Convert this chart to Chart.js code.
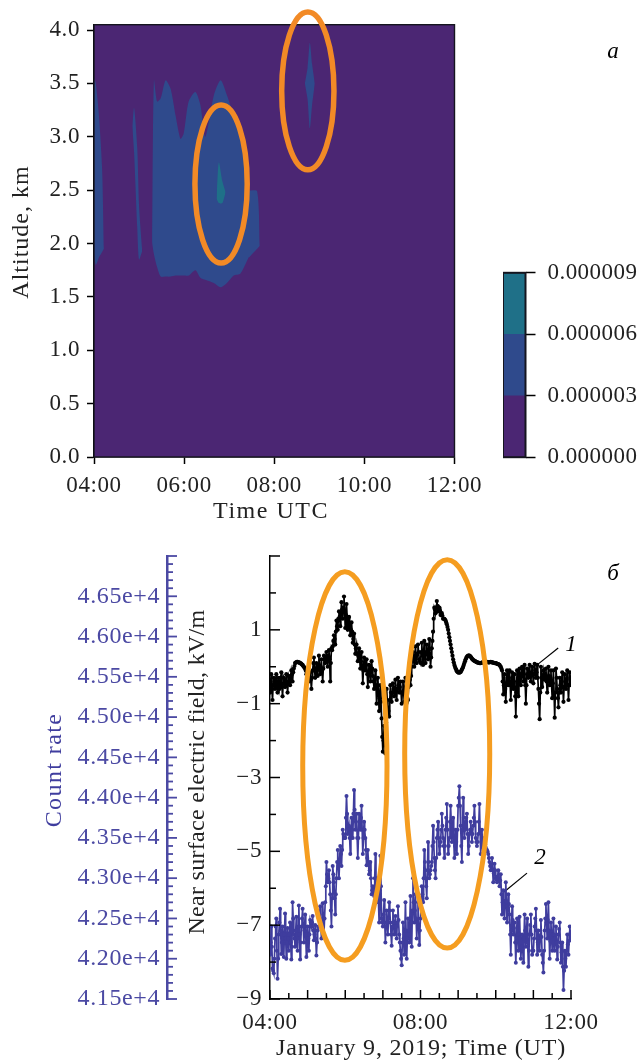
<!DOCTYPE html>
<html>
<head>
<meta charset="utf-8">
<title>Contours, field and count rate</title>
<script src="https://cdn.jsdelivr.net/npm/chart.js@4/dist/chart.umd.min.js"></script>
<style>
  html, body { margin: 0; padding: 0; background: #fff; }
  #page { position: relative; width: 638px; height: 1063px; overflow: hidden; }
  canvas { position: absolute; display: block; }
</style>
</head>
<body>
<div id="page">
  <canvas id="contour" width="638" height="530" style="left:0;top:0"></canvas>
  <canvas id="colorbar" width="135" height="236" style="left:503px;top:247px"></canvas>
  <canvas id="series" width="638" height="533" style="left:0;top:530px"></canvas>
</div>
<script>
// upper panel: contour outlines, hours UTC against km
const leftStripTimes = [4.0, 4.04, 4.11, 4.18, 4.22];
const leftStripUpper = [3.55, 3.5, 3.2, 2.7, 1.95];
const leftStripLower = [1.9, 1.8, 1.87, 1.92, 1.95];

const thinStripTimes = [4.85, 4.89, 4.96, 5.0, 5.07];
const thinStripUpper = [3.1, 3.27, 2.9, 2.35, 1.93];
const thinStripLower = [3.1, 2.85, 2.15, 1.85, 1.93];

const mainTimes = [5.29, 5.33, 5.4, 5.48, 5.59, 5.7, 5.81, 5.92, 5.99, 6.1, 6.25, 6.36, 6.47, 6.66, 6.81, 6.95, 7.1, 7.25, 7.43, 7.44, 7.62, 7.68];
const mainUpper = [2.0, 3.53, 3.33, 3.36, 3.53, 3.45, 3.2, 2.98, 3.03, 3.33, 3.42, 3.3, 3.0, 3.39, 3.53, 3.39, 3.2, 3.0, 2.55, 2.5, 2.49, 1.98];
const mainLower = [2.0, 1.9, 1.78, 1.69, 1.69, 1.69, 1.7, 1.7, 1.7, 1.7, 1.75, 1.68, 1.66, 1.63, 1.59, 1.63, 1.7, 1.72, 1.87, 1.87, 1.95, 1.98];

const coreTimes = [6.72, 6.77, 6.85, 6.92];
const coreUpper = [2.42, 2.76, 2.58, 2.48];
const coreLower = [2.42, 2.38, 2.38, 2.48];

const upperPatchTimes = [8.68, 8.74, 8.79, 8.84, 8.9];
const upperPatchUpper = [3.5, 3.65, 3.88, 3.68, 3.5];
const upperPatchLower = [3.5, 3.35, 3.08, 3.3, 3.5];

const colorLevels = [0.000003, 0.000003, 0.000003];

// rings on the upper panel: centre and half sizes in hours and km
const contourRingTimes = [6.82, 8.745];
const contourRingAlts = [2.557, 3.43];
const contourRingHalfHours = [0.58, 0.58];
const contourRingHalfKm = [0.74, 0.74];

// lower panel, one row per hour from 04:00, even minutes here, odd minutes below
const fieldEvenMinutes = [
  -0.7,-0.2,-0.9,-0.3,-0.6,-0.2,-0.7,-0.3,-0.5,-0.15,-0.8,-0.3,-0.55,-0.2,-0.7,-0.25,-0.5,-0.1,-0.4,-0.05,0.1,0.12,0.13,0.12,0.1,0.08,0.05,0.0,-0.05,-0.2,
  -0.1,-0.4,-0.15,-0.6,-0.1,0.25,-0.3,0.1,-0.25,0.3,-0.2,0.2,-0.4,0.3,0.1,0.4,0.0,0.45,-0.4,0.5,0.55,0.85,0.6,1.25,1.0,1.5,1.1,1.75,1.3,1.9,
  1.05,1.7,1.0,1.35,0.85,1.2,0.65,0.9,0.35,0.6,0.15,0.5,-0.05,0.4,-0.45,0.25,-0.1,0.2,-0.55,0.05,-0.4,0.15,-0.25,-0.6,-0.1,-1.0,-0.3,-1.2,-0.5,-1.4,
  -2.3,-1.6,-2.35,-0.6,-1.1,-1.35,-0.5,-0.95,-0.45,-0.8,-0.35,-0.9,-0.3,-0.7,-0.4,-1.0,-0.4,-0.95,-0.3,-0.8,-0.9,-0.2,-0.5,0.0,0.4,0.0,0.55,0.1,0.6,0.2,
  0.1,0.65,0.05,0.7,0.1,0.6,0.2,0.75,0.0,0.5,0.95,1.6,1.45,1.78,1.5,1.6,1.4,1.45,1.3,1.3,1.25,1.15,1.0,0.8,0.6,0.4,0.2,0.05,-0.05,-0.12,
  -0.15,-0.16,-0.14,-0.08,0.0,0.1,0.2,0.27,0.3,0.3,0.27,0.22,0.18,0.16,0.14,0.12,0.11,0.1,0.1,0.11,0.12,0.13,0.14,0.13,0.12,0.12,0.13,0.12,0.11,0.1,
  0.1,0.08,0.07,0.05,0.0,-0.1,-0.75,-0.2,-0.95,-0.1,-0.5,-0.1,-0.9,-0.15,-0.6,-0.2,-1.35,-0.1,-0.8,-0.05,-0.5,0.0,-0.4,0.05,-1.0,-0.05,-0.3,0.05,-0.4,0.0,
  -0.45,0.08,-0.3,0.05,-0.6,-1.42,0.0,-0.55,-0.1,-0.35,-0.05,-0.7,0.0,-0.5,-0.1,-0.85,-0.1,-1.38,-0.05,-0.6,-1.1,-0.3,-0.7,-0.15,-0.95,-0.2,-0.6,-0.1,-0.9,-0.15,
  -0.5
];

const fieldOddMinutes = [
  -0.4,-0.6,-0.5,-0.45,-0.35,-0.5,-0.4,-0.6,-0.3,-0.55,-0.45,-0.35,-0.5,-0.4,-0.45,-0.3,-0.25,-0.2,-0.15,0.02,0.11,0.13,0.12,0.11,0.09,0.06,0.02,-0.03,-0.1,-0.15,
  -0.25,-0.3,-0.35,-0.3,0.1,-0.05,-0.15,-0.1,0.05,-0.05,0.0,-0.1,-0.05,0.2,0.25,0.15,0.3,0.2,0.1,0.45,0.7,0.75,0.95,1.1,1.3,1.35,1.45,1.55,1.6,1.5,
  1.4,1.35,1.2,1.05,1.0,0.95,0.75,0.6,0.5,0.35,0.3,0.2,0.15,0.0,-0.1,0.05,0.05,-0.2,-0.2,-0.15,-0.1,-0.05,-0.4,-0.35,-0.5,-0.6,-0.7,-0.85,-0.95,-1.9,
  -2.0,-2.1,-1.5,-0.9,-1.2,-0.9,-0.7,-0.7,-0.6,-0.6,-0.6,-0.6,-0.5,-0.55,-0.7,-0.7,-0.65,-0.6,-0.55,-0.85,-0.55,-0.35,-0.25,0.2,0.2,0.3,0.3,0.35,0.4,0.15,
  0.4,0.35,0.4,0.4,0.35,0.4,0.45,0.35,0.25,0.7,1.3,1.55,1.6,1.65,1.55,1.5,1.42,1.38,1.3,1.28,1.2,1.08,0.9,0.7,0.5,0.3,0.12,0.0,-0.08,-0.14,
  -0.155,-0.15,-0.11,-0.04,0.05,0.15,0.24,0.29,0.3,0.29,0.25,0.2,0.17,0.15,0.13,0.115,0.105,0.1,0.105,0.115,0.125,0.135,0.135,0.125,0.12,0.125,0.125,0.115,0.105,0.1,
  0.09,0.075,0.06,0.02,-0.05,-0.4,-0.5,-0.6,-0.5,-0.3,-0.3,-0.5,-0.5,-0.4,-0.4,-0.8,-0.7,-0.45,-0.4,-0.3,-0.2,-0.2,-0.2,-0.5,-0.5,-0.2,-0.15,-0.2,-0.2,-0.2,
  -0.2,-0.1,-0.15,-0.3,-1.0,-0.7,-0.3,-0.3,-0.2,-0.2,-0.4,-0.35,-0.25,-0.3,-0.5,-0.45,-0.7,-0.7,-0.3,-0.85,-0.7,-0.5,-0.4,-0.55,-0.55,-0.4,-0.35,-0.5,-0.5,-0.3
];

const countEvenMinutes = [
  42050,42400,41880,41820,42250,42500,41750,42300,42620,42060,42400,42020,42560,42000,42380,42100,42450,41990,42700,42300,42150,42520,42100,42660,41990,42400,42620,42200,42550,42020,
  42400,42100,42480,42400,42530,42230,42420,42040,42350,42500,42650,42250,42690,42300,42700,43200,42950,43100,42800,42400,43150,42950,42550,43000,43350,43000,43400,43150,43600,43500,
  43500,44020,43550,43650,43300,43750,43500,44095,43600,43800,43250,43800,43600,43900,43300,43700,43500,43160,43350,43050,43200,42800,42900,42780,43300,42700,42900,42450,43280,42500,
  42400,42730,42200,42600,42300,42700,42450,42160,42600,42300,42530,42250,42650,42300,42100,41920,42450,42050,42700,42000,42500,42200,42780,42150,43000,42450,42800,42250,42700,42170,
  42500,42900,42700,43350,43000,42750,43450,43000,43100,43200,43650,43250,43000,43500,43700,43300,43450,43800,43500,43250,43600,43920,43300,43500,43900,43450,43750,43250,43600,43300,
  43900,44140,43650,43200,44000,43500,43700,43800,43300,43550,43700,43450,43650,43900,43500,43400,43550,43920,43300,43600,43250,43500,43380,43350,43300,43200,43100,43250,42950,43180,
  43000,42950,43100,42900,43050,42550,42850,42500,42950,42450,42800,42550,42050,42650,42300,42450,41950,42500,42100,42520,42000,42300,41950,42550,42150,42500,41900,42300,42550,42050,
  42100,42400,42620,42050,42350,42100,42480,42050,41830,42350,42680,42250,42700,42000,42450,42100,42500,42100,42400,41990,42300,42450,41950,42200,41612,42100,41900,42300,42050,42400,
  42250
];

const countOddMinutes = [
  42200,42150,41850,42000,42400,42100,42000,42450,42350,42200,42250,42300,42250,42200,42250,42300,42200,42150,42500,42250,42350,42300,42400,42300,42200,42500,42400,42350,42300,42200,
  42250,42300,42450,42450,42350,42300,42250,42200,42400,42550,42450,42450,42500,42500,42900,43050,43000,42950,42600,42750,43050,42750,42800,43200,43150,43200,43300,43350,43550,43500,
  43750,43800,43600,43500,43500,43600,43800,43850,43700,43500,43500,43700,43750,43600,43500,43600,43350,43250,43200,43100,43000,42850,42850,43000,43000,42800,42700,42850,42900,42450,
  42550,42450,42400,42450,42500,42600,42300,42400,42450,42400,42400,42450,42480,42200,42000,42200,42250,42350,42350,42250,42350,42500,42450,42600,42700,42600,42500,42450,42400,42350,
  42700,42800,43000,43200,42900,43100,43200,43050,43150,43400,43450,43100,43250,43600,43500,43400,43600,43650,43400,43400,43750,43600,43400,43700,43700,43600,43500,43400,43450,43600,
  44000,43900,43400,43600,43750,43600,43750,43550,43400,43600,43600,43550,43750,43700,43450,43450,43700,43600,43450,43400,43400,43420,43350,43330,43250,43150,43170,43100,43060,43100,
  42980,43020,43000,42970,42800,42700,42680,42720,42700,42620,42680,42300,42350,42480,42380,42200,42220,42300,42310,42260,42150,42120,42250,42350,42320,42200,42100,42420,42300,42100,
  42250,42500,42350,42200,42220,42290,42270,41950,42100,42500,42450,42480,42350,42220,42280,42300,42300,42250,42200,42150,42370,42200,42080,41900,41850,42000,42100,42180,42220,42320
];

const seriesStartHour = 4;
const seriesHourTicks = [4, 8, 12];

const seriesRingTimes = [5.99, 8.71];
const seriesRingFields = [-2.69, -2.36];
const seriesRingHalfHours = [1.12, 1.13];
const seriesRingHalfFields = [5.26, 5.26];

// leader lines for curve labels 1 and 2
const leaderOneTimes = [11.1, 11.66];
const leaderOneFields = [0.05, 0.51];
const leaderTwoTimes = [10.22, 10.83];
const leaderTwoFields = [-6.1, -5.59];

const SERIF = '"Liberation Serif", serif';
const PURPLE = '#4b2673';
const BLUE = '#2f4a8c';
const TEAL = '#1f7088';
const COUNT_COLOR = '#3f3d9e';
const AXIS_COUNT = '#4b49a3';

function zip(xs, ys) {
  return xs.map((x, i) => ({ x: x, y: ys[i] }));
}

// even and odd minute readings back into one time line
function minuteSeries(even, odd) {
  const out = [];
  even.forEach((v, i) => {
    out.push({ x: seriesStartHour + i / 30, y: v });
    if (i < odd.length) out.push({ x: seriesStartHour + i / 30 + 1 / 60, y: odd[i] });
  });
  return out;
}

// two lines and the fill between them
function region(times, upper, lower, color) {
  return [
    { data: zip(times, upper), fill: '+1', backgroundColor: color, borderWidth: 0, pointRadius: 0, tension: 0.25 },
    { data: zip(times, lower), fill: false, borderWidth: 0, pointRadius: 0, tension: 0.25 }
  ];
}

function hourLabel(h) {
  return String(h).padStart(2, '0') + ':00';
}

// CM fonts run wide, liberation needs a bit of tracking
const tracking = {
  id: 'tracking',
  beforeDraw(chart) {
    chart.ctx.letterSpacing = chart.canvas.id === 'colorbar' ? '0.45px' : '0.6px';
  },
  afterDraw(chart) {
    chart.ctx.letterSpacing = '0px';
  }
};

function ringPlugin(xScale, yScale, ts, vs, halfTs, halfVs, color, width) {
  return {
    id: 'rings',
    afterDatasetsDraw(chart) {
      const sx = chart.scales[xScale];
      const sy = chart.scales[yScale];
      const ctx = chart.ctx;
      ctx.save();
      ctx.strokeStyle = color;
      ctx.lineWidth = width;
      ts.forEach((t, i) => {
        const rx = Math.abs(sx.getPixelForValue(t + halfTs[i]) - sx.getPixelForValue(t));
        const ry = Math.abs(sy.getPixelForValue(vs[i] + halfVs[i]) - sy.getPixelForValue(vs[i]));
        ctx.beginPath();
        ctx.ellipse(sx.getPixelForValue(t), sy.getPixelForValue(vs[i]), rx, ry, 0, 0, Math.PI * 2);
        ctx.stroke();
      });
      ctx.restore();
    }
  };
}

// free text in canvas pixels
function captionPlugin(items) {
  return {
    id: 'captions',
    afterDraw(chart) {
      const ctx = chart.ctx;
      items.forEach(c => {
        ctx.save();
        ctx.translate(c.x, c.y);
        if (c.rot) ctx.rotate(c.rot);
        ctx.font = c.font;
        ctx.fillStyle = c.color || '#000';
        ctx.textAlign = 'center';
        ctx.textBaseline = 'middle';
        ctx.letterSpacing = c.spacing || '0px';
        ctx.fillText(c.text, 0, 0);
        ctx.restore();
      });
    }
  };
}

// thin dark outline round the chart area
const frame = {
  id: 'frame',
  afterDatasetsDraw(chart) {
    const a = chart.chartArea;
    const ctx = chart.ctx;
    ctx.save();
    ctx.strokeStyle = '#15151f';
    ctx.lineWidth = chart.canvas.id === 'colorbar' ? 2 : 1.4;
    ctx.strokeRect(a.left, a.top, a.right - a.left, a.bottom - a.top);
    ctx.restore();
  }
};

const baseOptions = {
  responsive: false,
  animation: false,
  plugins: { legend: { display: false }, tooltip: { enabled: false } }
};

// upper contour panel. first dataset is painted last, so background goes at the end
new Chart(document.getElementById('contour'), {
  type: 'line',
  data: {
    datasets: [].concat(
      region(coreTimes, coreUpper, coreLower, TEAL),
      region(leftStripTimes, leftStripUpper, leftStripLower, BLUE),
      region(thinStripTimes, thinStripUpper, thinStripLower, BLUE),
      region(mainTimes, mainUpper, mainLower, BLUE),
      region(upperPatchTimes, upperPatchUpper, upperPatchLower, BLUE),
      region([4, 12], [4.05, 4.05], [0, 0], PURPLE)
    )
  },
  options: Object.assign({}, baseOptions, {
    layout: { autoPadding: false, padding: { top: 24.7, right: 183.5 } },
    scales: {
      x: {
        type: 'linear', min: 4, max: 12,
        afterFit: s => { s.height = 73; },
        grid: { drawOnChartArea: false, tickLength: 7, tickColor: '#000', tickWidth: 1.5 },
        border: { color: '#000', width: 1.5 },
        ticks: { stepSize: 2, autoSkip: false, maxRotation: 0, padding: 8, color: '#222', font: { family: SERIF, size: 23 }, callback: v => hourLabel(v) }
      },
      y: {
        min: 0, max: 4.05,
        afterFit: s => { s.width = 94; },
        grid: { drawOnChartArea: false, tickLength: 7, tickColor: '#000', tickWidth: 1.5 },
        border: { color: '#000', width: 1.5 },
        ticks: { stepSize: 0.5, includeBounds: false, padding: 7, color: '#222', font: { family: SERIF, size: 23 }, callback: v => v.toFixed(1) }
      }
    }
  }),
  plugins: [
    tracking,
    frame,
    ringPlugin('x', 'y', contourRingTimes, contourRingAlts, contourRingHalfHours, contourRingHalfKm, '#f28a26', 5.5),
    captionPlugin([
      { text: 'Altitude, km', x: 22, y: 232, rot: -Math.PI / 2, font: '24px ' + SERIF, color: '#222', spacing: '1px' },
      { text: 'Time UTC', x: 271, y: 512, font: '24px ' + SERIF, color: '#222', spacing: '1.5px' },
      { text: '\u0430', x: 613, y: 52, font: 'italic 23px ' + SERIF }
    ])
  ]
});

// colour scale
new Chart(document.getElementById('colorbar'), {
  type: 'bar',
  data: {
    labels: [''],
    datasets: [PURPLE, BLUE, TEAL].map((c, i) => ({
      data: [colorLevels[i]], backgroundColor: c, borderWidth: 0, barPercentage: 1, categoryPercentage: 1
    }))
  },
  options: Object.assign({}, baseOptions, {
    layout: { autoPadding: false, padding: { top: 0, bottom: 0 } },
    scales: {
      x: { stacked: true, display: false },
      y: {
        stacked: true, position: 'right', min: 0, max: 0.000009,
        afterFit: s => { s.width = 112.5; },
        grid: { drawOnChartArea: false, tickLength: 10, tickColor: '#000', tickWidth: 1.5 },
        border: { display: false },
        ticks: { stepSize: 0.000003, padding: 12, color: '#222', font: { family: SERIF, size: 23 }, callback: v => v.toFixed(6) }
      }
    }
  }),
  plugins: [tracking, frame]
});

// inward ticks on the lower panel
const innerTicks = {
  id: 'innerTicks',
  afterDraw(chart) {
    const ctx = chart.ctx;
    const a = chart.chartArea;
    ctx.save();
    const yE = chart.scales.y;
    const yC = chart.scales.y1;
    const xT = chart.scales.x;
    ctx.strokeStyle = '#000';
    ctx.lineWidth = 1.5;
    yE.ticks.forEach(t => {
      const py = yE.getPixelForValue(t.value);
      const len = Math.abs(t.value % 2) === 1 ? 10 : 6;
      ctx.beginPath(); ctx.moveTo(a.left, py); ctx.lineTo(a.left + len, py); ctx.stroke();
    });
    xT.ticks.forEach(t => {
      const px = xT.getPixelForValue(t.value);
      const len = t.value % 1 === 0 ? 9 : 6;
      ctx.beginPath(); ctx.moveTo(px, a.bottom); ctx.lineTo(px, a.bottom - len); ctx.stroke();
    });
    ctx.strokeStyle = AXIS_COUNT;
    ctx.lineWidth = 1.8;
    yC.ticks.forEach(t => {
      const py = yC.getPixelForValue(t.value);
      const len = Math.round(t.value) % 500 === 0 ? 10 : 6;
      ctx.beginPath(); ctx.moveTo(yC.right, py); ctx.lineTo(yC.right + len, py); ctx.stroke();
    });
    ctx.restore();
  }
};

new Chart(document.getElementById('series'), {
  type: 'line',
  data: {
    datasets: [
      {
        data: minuteSeries(fieldEvenMinutes, fieldOddMinutes),
        yAxisID: 'y', borderColor: '#000', backgroundColor: '#000', borderWidth: 1.7, pointRadius: 2.1, pointBorderWidth: 0
      },
      {
        data: minuteSeries(countEvenMinutes, countOddMinutes),
        yAxisID: 'y1', borderColor: COUNT_COLOR, backgroundColor: COUNT_COLOR, borderWidth: 1.7, pointRadius: 2, pointBorderWidth: 0
      },
      { data: zip(leaderOneTimes, leaderOneFields), yAxisID: 'y', borderColor: '#000', borderWidth: 1.2, pointRadius: 0 },
      { data: zip(leaderTwoTimes, leaderTwoFields), yAxisID: 'y', borderColor: '#000', borderWidth: 1.2, pointRadius: 0 }
    ]
  },
  options: Object.assign({}, baseOptions, {
    layout: { autoPadding: false, padding: { top: 26, right: 67 } },
    scales: {
      x: {
        type: 'linear', min: 4, max: 12,
        afterFit: s => { s.height = 64; },
        grid: { display: false, drawTicks: false },
        border: { color: '#000', width: 1.5 },
        ticks: {
          stepSize: 0.5, autoSkip: false, maxRotation: 0, padding: 10, color: '#222',
          font: { family: SERIF, size: 23 },
          callback: v => seriesHourTicks.includes(v) ? hourLabel(v) : ''
        }
      },
      y: {
        position: 'left', weight: 1, min: -9, max: 3,
        afterFit: s => { s.width = 103; },
        grid: { display: false, drawTicks: false },
        border: { color: '#000', width: 1.5 },
        ticks: {
          stepSize: 1, autoSkip: false, padding: 8, color: '#222',
          font: { family: SERIF, size: 23 },
          callback: v => (Math.abs(v % 2) === 1 && v <= 1) ? String(v).replace('-', '\u2212') : ''
        }
      },
      y1: {
        position: 'left', weight: 2, min: 41500, max: 47000,
        afterFit: s => { s.width = 167; },
        grid: { display: false, drawTicks: false },
        border: { color: AXIS_COUNT, width: 2.5 },
        ticks: {
          stepSize: 100, autoSkip: false, padding: 7, color: AXIS_COUNT,
          font: { family: SERIF, size: 24 },
          callback: v => {
            const n = Math.round(v);
            return (n % 500 === 0 && n < 47000) ? (n / 10000).toFixed(2) + 'e+4' : '';
          }
        }
      }
    }
  }),
  plugins: [
    tracking,
    innerTicks,
    ringPlugin('x', 'y', seriesRingTimes, seriesRingFields, seriesRingHalfHours, seriesRingHalfFields, '#f59d20', 5),
    captionPlugin([
      { text: 'Count rate', x: 55, y: 240, rot: -Math.PI / 2, font: '24px ' + SERIF, color: COUNT_COLOR, spacing: '1.4px' },
      { text: 'Near surface electric field, kV/m', x: 198, y: 242, rot: -Math.PI / 2, font: '24px ' + SERIF, color: '#222', spacing: '0.3px' },
      { text: 'January 9, 2019; Time (UT)', x: 421, y: 519, font: '24px ' + SERIF, color: '#222', spacing: '0.8px' },
      { text: '\u0431', x: 613, y: 44, font: 'italic 23px ' + SERIF },
      { text: '1', x: 571, y: 115, font: 'italic 23px ' + SERIF },
      { text: '2', x: 540, y: 328, font: 'italic 23px ' + SERIF }
    ])
  ]
});
</script>
</body>
</html>
